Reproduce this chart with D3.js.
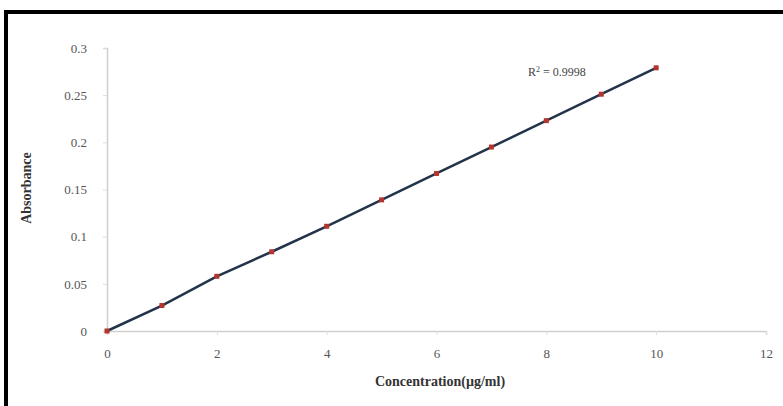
<!DOCTYPE html>
<html>
<head>
    <meta charset="utf-8">
    <title>Calibration Curve</title>
    <script src="https://d3js.org/d3.v7.min.js"></script>
    <style>
        body { margin: 0; background: #fff; }
        text { font-family: "Liberation Serif", "DejaVu Serif", serif; }
    </style>
</head>
<body>
    <svg width="783" height="406" id="chart"></svg>
    <script>
        // values
        const concentration = [0, 1, 2, 3, 4, 5, 6, 7, 8, 9, 10]
        const absorbance = [0, 0.027, 0.058, 0.084, 0.111, 0.139, 0.167, 0.195, 0.223, 0.251, 0.279]
        const xTicks = [0, 2, 4, 6, 8, 10, 12]
        const yTicks = [0, 0.05, 0.1, 0.15, 0.2, 0.25, 0.3]
        const rSquared = "0.9998"

        const svg = d3.select("#chart")
        const margin = { top: 48, left: 107, right: 17, bottom: 75 }
        const width = +svg.attr("width")
        const height = +svg.attr("height")

        // black frame on top and left
        svg.append("rect").attr("x", 4).attr("y", 10).attr("width", 779).attr("height", 4).attr("fill", "#000")
        svg.append("rect").attr("x", 4).attr("y", 10).attr("width", 4).attr("height", 396).attr("fill", "#000")

        const xScale = d3.scaleLinear().domain([0, 12]).range([margin.left, width - margin.right])
        const yScale = d3.scaleLinear().domain([0, 0.3]).range([height - margin.bottom, margin.top])

        const xAxis = d3.axisBottom(xScale).tickValues(xTicks).tickSize(4).tickPadding(14).tickFormat(d3.format("d"))
        const yAxis = d3.axisLeft(yScale).tickValues(yTicks).tickSize(4).tickPadding(16).tickFormat(d => d === 0 ? "0" : d3.format("")(d))

        const gx = svg.append("g").attr("transform", `translate(0,${yScale(0)})`).call(xAxis)
        const gy = svg.append("g").attr("transform", `translate(${xScale(0)},0)`).call(yAxis)

        for (const g of [gx, gy]) {
            g.select(".domain").attr("stroke", "#cfcfcf").attr("stroke-width", 1.5)
            g.selectAll(".tick line").attr("stroke", "#dcdcdc")
            g.selectAll(".tick text").attr("fill", "#555").style("font-size", "13px")
                .style("font-family", "Liberation Serif, serif")
        }

        // line through points
        const line = d3.line().x((d, i) => xScale(concentration[i])).y(d => yScale(d))
        svg.append("path")
            .datum(absorbance)
            .attr("d", line)
            .attr("fill", "none")
            .attr("stroke", "#22344a")
            .attr("stroke-width", 2.5)

        svg.selectAll(".pt")
            .data(absorbance)
            .enter()
            .append("rect")
            .attr("class", "pt")
            .attr("x", (d, i) => xScale(concentration[i]) - 2.5)
            .attr("y", d => yScale(d) - 2.5)
            .attr("width", 5)
            .attr("height", 5)
            .attr("fill", "#b3352f")

        // R squared label
        svg.append("text")
            .attr("x", 528)
            .attr("y", 76)
            .attr("fill", "#444")
            .style("font-size", "12px")
            .html(`R<tspan baseline-shift="super" font-size="8px">2</tspan> = ${rSquared}`)

        // axis titles
        svg.append("text")
            .attr("x", 440)
            .attr("y", 386)
            .attr("text-anchor", "middle")
            .attr("font-weight", "bold")
            .style("font-size", "14px")
            .attr("fill", "#333")
            .text("Concentration(µg/ml)")

        svg.append("text")
            .attr("transform", "translate(31,188) rotate(-90)")
            .attr("text-anchor", "middle")
            .attr("font-weight", "bold")
            .style("font-size", "14px")
            .attr("fill", "#333")
            .text("Absorbance")
    </script>
</body>
</html>
